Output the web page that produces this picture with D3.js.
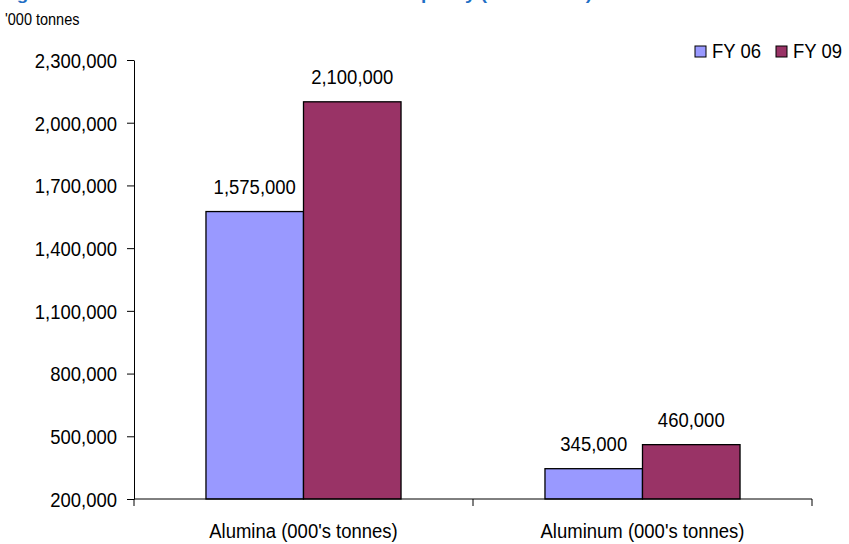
<!DOCTYPE html>
<html>
<head>
<meta charset="utf-8">
<script src="https://cdn.jsdelivr.net/npm/d3@7"></script>
<style>
  html, body { margin: 0; padding: 0; background: #fff; }
  svg { display: block; }
  text { font-family: "Liberation Sans", Arial, sans-serif; fill: #000; }
</style>
</head>
<body>
<script>
// Chart data
const categories = ["Alumina (000's tonnes)", "Aluminum (000's tonnes)"];
const seriesNames = ["FY 06", "FY 09"];
const fy06 = [1575000, 345000];
const fy09 = [2100000, 460000];
const yTicks = [200000, 500000, 800000, 1100000, 1400000, 1700000, 2000000, 2300000];
const titleText = "Figure 8: Hindalco's alumina and aluminium capacity (000 tonnes)";
const unitText = "'000 tonnes";

const W = 849, H = 544;
const seriesColors = ["#9999FF", "#993366"];
const FS = "18.5px";   // body text size
const SY = 1.1;        // slightly tall lettering

const svg = d3.select("body").append("svg")
  .attr("width", W).attr("height", H);

// Plot area
const plot = { left: 134, right: 812, top: 60, bottom: 499 };

const x0 = d3.scaleBand().domain(categories).range([plot.left, plot.right]).paddingInner(0).paddingOuter(0);
const x1 = d3.scaleBand().domain(seriesNames).range([0, x0.bandwidth()]).paddingInner(0).paddingOuter(0.738);
const y = d3.scaleLinear().domain([200000, 2300000]).range([plot.bottom, plot.top]);

const fmt = d3.format(",");
const at = (px, py, sy = SY) => `translate(${px},${py}) scale(1,${sy})`;

// Title (runs off the top edge)
svg.append("text")
  .attr("x", 0).attr("y", 0)
  .attr("textLength", 592).attr("lengthAdjust", "spacingAndGlyphs")
  .style("font-size", "17px").style("font-weight", "bold").style("fill", "#1F6FC5")
  .text(titleText);

// Unit label
svg.append("text")
  .attr("transform", at(5, 25, 1.2))
  .style("font-size", "14.5px")
  .text(unitText);

// Bars
const rows = categories.map((c, i) => ({ cat: c, vals: [fy06[i], fy09[i]] }));
const groups = svg.append("g").selectAll("g").data(rows).join("g")
  .attr("transform", d => `translate(${x0(d.cat)},0)`);

groups.selectAll("rect").data(d => d.vals.map((v, j) => ({ s: seriesNames[j], v, j })))
  .join("rect")
  .attr("x", d => x1(d.s))
  .attr("y", d => y(d.v))
  .attr("width", x1.bandwidth())
  .attr("height", d => y(200000) - y(d.v))
  .attr("fill", d => seriesColors[d.j])
  .attr("stroke", "#000").attr("stroke-width", 1.3);

groups.selectAll("text.val").data(d => d.vals.map((v, j) => ({ s: seriesNames[j], v })))
  .join("text").attr("class", "val")
  .attr("transform", d => at(x1(d.s) + x1.bandwidth() / 2, y(d.v) - 18))
  .attr("text-anchor", "middle")
  .style("font-size", FS)
  .text(d => fmt(d.v));

// Y axis
const yAxis = svg.append("g")
  .attr("transform", `translate(${plot.left},0)`)
  .call(d3.axisLeft(y).tickValues(yTicks).tickFormat(fmt).tickSize(7).tickSizeOuter(0).tickPadding(10));
yAxis.select(".domain").attr("stroke", "#000");
yAxis.selectAll(".tick line").attr("stroke", "#000");
yAxis.selectAll(".tick text")
  .style("font-size", FS).attr("font-family", null)
  .attr("dy", "0.36em")
  .attr("transform", `scale(1,${SY})`);

// X axis with ticks at category boundaries
const xg = svg.append("g").attr("transform", `translate(0,${plot.bottom})`);
xg.append("line").attr("x1", plot.left).attr("x2", plot.right).attr("stroke", "#000");
const bounds = [plot.left, ...categories.map(c => x0(c) + x0.bandwidth())];
xg.selectAll("line.tk").data(bounds).join("line").attr("class", "tk")
  .attr("x1", d => d).attr("x2", d => d).attr("y1", 0).attr("y2", 7)
  .attr("stroke", "#000");
xg.selectAll("text").data(categories).join("text")
  .attr("transform", d => at(x0(d) + x0.bandwidth() / 2, 39))
  .attr("text-anchor", "middle")
  .style("font-size", FS)
  .text(d => d);

// Legend
const legend = svg.append("g").attr("transform", "translate(695,46)");
const legX = [0, 81];
seriesNames.forEach((s, i) => {
  legend.append("rect").attr("x", legX[i]).attr("y", 0).attr("width", 11).attr("height", 11)
    .attr("fill", seriesColors[i]).attr("stroke", "#000").attr("stroke-width", 1);
  legend.append("text").attr("transform", at(legX[i] + 17, 12))
    .style("font-size", FS).text(s);
});
</script>
</body>
</html>
